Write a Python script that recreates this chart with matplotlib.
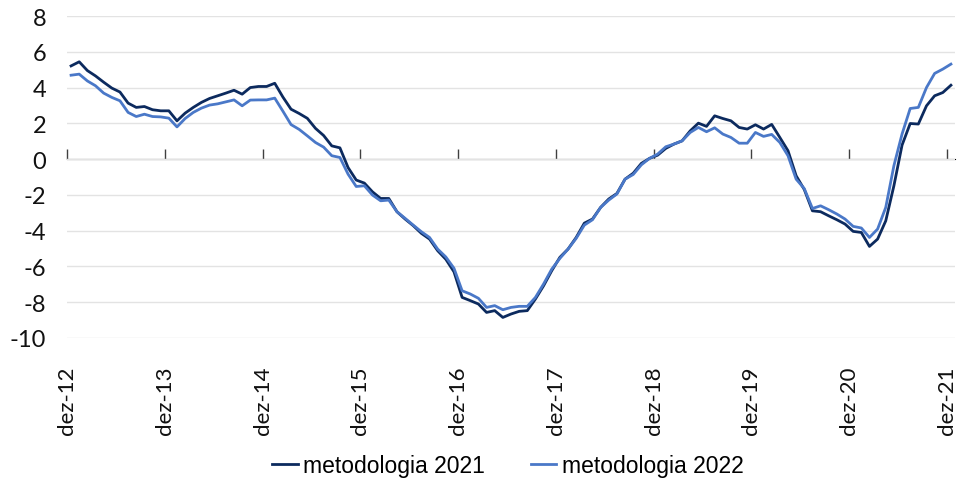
import numpy as np
import matplotlib
matplotlib.use("Agg")
import matplotlib.pyplot as plt

# monthly values, dez-12 .. dez-21
met_2021 = [5.21, 5.44, 4.95, 4.65, 4.30, 3.97, 3.75, 3.13, 2.89, 2.94, 2.76, 2.70,
            2.70, 2.14, 2.57, 2.89, 3.17, 3.39, 3.54, 3.69, 3.85, 3.63, 4.00, 4.06,
            4.06, 4.24, 3.47, 2.79, 2.55, 2.28, 1.72, 1.32, 0.74, 0.63, -0.47, -1.17,
            -1.34, -1.83, -2.20, -2.20, -2.94, -3.35, -3.72, -4.15, -4.47, -5.12, -5.60, -6.30,
            -7.73, -7.91, -8.10, -8.57, -8.47, -8.85, -8.66, -8.51, -8.47, -7.82, -7.08, -6.24,
            -5.49, -5.03, -4.38, -3.58, -3.35, -2.70, -2.23, -1.92, -1.12, -0.79, -0.24, 0.04,
            0.22, 0.60, 0.84, 1.02, 1.58, 2.01, 1.83, 2.42, 2.27, 2.14, 1.77, 1.68,
            1.92, 1.68, 1.94, 1.21, 0.47, -0.93, -1.70, -2.89, -2.94, -3.17, -3.39, -3.63,
            -4.04, -4.10, -4.88, -4.47, -3.45, -1.49, 0.78, 1.99, 1.96, 2.98, 3.54, 3.72,
            4.13]
met_2022 = [4.69, 4.75, 4.37, 4.10, 3.69, 3.45, 3.26, 2.61, 2.38, 2.51, 2.38, 2.36,
            2.29, 1.80, 2.27, 2.61, 2.85, 3.02, 3.09, 3.20, 3.31, 2.98, 3.30, 3.31,
            3.31, 3.41, 2.68, 1.93, 1.66, 1.30, 0.93, 0.67, 0.19, 0.09, -0.84, -1.53,
            -1.49, -2.01, -2.33, -2.29, -2.94, -3.31, -3.69, -4.06, -4.38, -5.03, -5.47, -6.10,
            -7.36, -7.54, -7.78, -8.29, -8.19, -8.42, -8.29, -8.23, -8.23, -7.73, -6.98, -6.15,
            -5.55, -5.03, -4.43, -3.69, -3.39, -2.70, -2.29, -1.95, -1.12, -0.86, -0.32, 0.04,
            0.28, 0.69, 0.84, 1.02, 1.49, 1.77, 1.53, 1.75, 1.40, 1.21, 0.89, 0.89,
            1.49, 1.27, 1.38, 0.93, 0.19, -1.12, -1.65, -2.76, -2.61, -2.83, -3.07, -3.35,
            -3.76, -3.85, -4.38, -3.91, -2.70, -0.37, 1.40, 2.83, 2.89, 4.00, 4.79, 5.03,
            5.31]
tick_labels = ["dez-12", "dez-13", "dez-14", "dez-15", "dez-16",
               "dez-17", "dez-18", "dez-19", "dez-20", "dez-21"]
y_ticks = list(range(-10, 9, 2))

plt.rcParams["axes.unicode_minus"] = False
plt.rcParams["font.family"] = ["Lato", "DejaVu Sans"]

fig = plt.figure(figsize=(9.64, 4.81), dpi=100)
ax = fig.add_axes([67 / 964, 1 - 339 / 481, 888 / 964, 322 / 481])

x = np.arange(len(met_2021)) + 0.5   # points sit between the monthly ticks
ax.plot(x, met_2021, color="#0c2a5e", lw=2.0, label="metodologia 2021", zorder=3)
ax.plot(x, met_2022, color="#4a78c8", lw=2.0, label="metodologia 2022", zorder=3)

ax.set_xlim(0, len(met_2021))
ax.set_ylim(-10, 8)
ax.set_yticks(y_ticks)
ax.grid(axis="y", color="#e3e3e3", lw=1.0)
ax.set_axisbelow(True)
for s in ax.spines.values():
    s.set_visible(False)

ax.tick_params(axis="y", length=0, pad=15, labelsize=17, labelcolor="#111111")

xt = np.arange(0, len(met_2021), 12)
ax.set_xticks(xt)
ax.set_xticklabels(tick_labels, rotation=90, fontsize=16, color="#111111")
ax.tick_params(axis="x", length=0, pad=20)

# zero line with tick marks
zero = ax.secondary_xaxis(10 / 18)
zero.set_xticks(xt)
zero.set_xticklabels([])
zero.tick_params(axis="x", direction="out", length=7, width=1, color="#404040")
zero.spines["bottom"].set_color("#404040")
zero.spines["bottom"].set_linewidth(1.0)

leg = fig.legend(loc="lower center", bbox_to_anchor=(0.527, -0.037), ncol=2, frameon=False,
                 handlelength=1.1, handletextpad=0.25, columnspacing=2.0,
                 prop={"family": ["Liberation Sans", "DejaVu Sans"], "size": 16.5})

fig.savefig("out.png", dpi=100)
